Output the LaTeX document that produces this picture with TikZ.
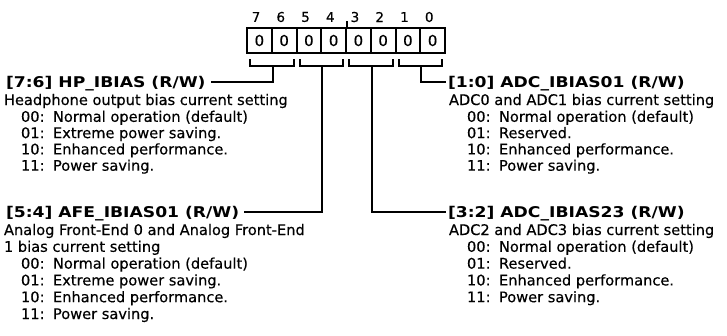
\documentclass[tikz,border=0pt]{standalone}
\usepackage{fontspec}
\setmainfont{DejaVu Sans}[FakeBold=0.35]
\newfontfamily\tfont[FakeStretch=1.16]{DejaVu Sans}
\usetikzlibrary{calc}
\begin{document}
\begin{tikzpicture}[x=1pt,y=-1pt,
  line width=2pt,
  bitbox/.style={draw, line width=2pt, minimum width=24.75pt, minimum height=25pt, inner sep=0pt,
    font=\fontsize{15}{17}\selectfont},
  bitlbl/.style={inner sep=0pt, font=\fontsize{13.5}{15}\selectfont},
  ttl/.style={inner ysep=0pt, text height=12pt, text depth=2pt,
    font=\tfont\bfseries\fontsize{14.8}{16}\selectfont},
  body/.style={anchor=base west, inner sep=0pt, font=\fontsize{14.6}{16}\selectfont},
  wire/.style={line width=2pt}
]
\useasboundingbox (0,0) rectangle (727,335);

% register boxes
\foreach \i in {7,...,0} {
  \node[bitbox] (b\i) at ({247+(7-\i)*24.75+12.375},40.5) {0};
  \node[bitlbl] (l\i) at ({247+(7-\i)*24.75+9},17) {\i};
}
\draw[wire] (b4.north east) -- ++(0,-6);

% bracket anchor points
\coordinate (k76) at ($(b7.south east)+(0,12)$);
\coordinate (k54) at ($(b5.south east)+(0,12)$);
\coordinate (k32) at ($(b3.south east)+(0,12)$);
\coordinate (k10) at ($(b1.south east)+(0,12)$);

\draw[wire] ($(b7.south west)+(4,5)$) |- (k76) -| ($(b6.south east)+(-4,5)$);
\draw[wire] ($(b5.south west)+(4,5)$) |- (k54) -| ($(b4.south east)+(-4,5)$);
\draw[wire] ($(b3.south west)+(4,5)$) |- (k32) -| ($(b2.south east)+(-4,5)$);
\draw[wire] ($(b1.south west)+(4,5)$) |- (k10) -| ($(b0.south east)+(-4,5)$);

% titles
\node[ttl, anchor=west, inner xsep=4pt] (t76) at (1,82) {[7:6] HP\_IBIAS (R/W)};
\node[ttl, anchor=west, inner xsep=4pt] (t54) at (1,212) {[5:4] AFE\_IBIAS01 (R/W)};
\node[ttl, anchor=west, inner xsep=1pt] (t10) at (446,82) {[1:0] ADC\_IBIAS01 (R/W)};
\node[ttl, anchor=west, inner xsep=1pt] (t32) at (446,212) {[3:2] ADC\_IBIAS23 (R/W)};

\draw[wire] (k76) |- (t76);
\draw[wire] (k54) |- (t54);
\draw[wire] (k10) |- (t10);
\draw[wire] (k32) |- (t32);

% left top block
\node[body] (d76) at (3,105) {Headphone output bias current setting};
\foreach \c/\t [count=\k] in {00/Normal operation (default), 01/Extreme power saving., 10/Enhanced performance., 11/Power saving.} {
  \node[body] (c76\k) at (20,{105.5+16.3*\k}) {\c:};
  \node[body] (e76\k) at (52,{105.5+16.3*\k}) {\t};
}
% left bottom block
\node[body] (d54a) at (3,235) {Analog Front-End 0 and Analog Front-End};
\node[body] (d54b) at (3,251.8) {1 bias current setting};
\foreach \c/\t [count=\k] in {00/Normal operation (default), 01/Extreme power saving., 10/Enhanced performance., 11/Power saving.} {
  \node[body] (c54\k) at (20,{251.8+16.8*\k}) {\c:};
  \node[body] (e54\k) at (52,{251.8+16.8*\k}) {\t};
}
% right top block
\node[body] (d10) at (448,105) {ADC0 and ADC1 bias current setting};
\foreach \c/\t [count=\k] in {00/Normal operation (default), 01/Reserved., 10/Enhanced performance., 11/Power saving.} {
  \node[body] (c10\k) at (466,{105.5+16.3*\k}) {\c:};
  \node[body] (e10\k) at (498,{105.5+16.3*\k}) {\t};
}
% right bottom block
\node[body] (d32) at (448,235) {ADC2 and ADC3 bias current setting};
\foreach \c/\t [count=\k] in {00/Normal operation (default), 01/Reserved., 10/Enhanced performance., 11/Power saving.} {
  \node[body] (c32\k) at (466,{235+16.8*\k}) {\c:};
  \node[body] (e32\k) at (498,{235+16.8*\k}) {\t};
}
\end{tikzpicture}
\end{document}
